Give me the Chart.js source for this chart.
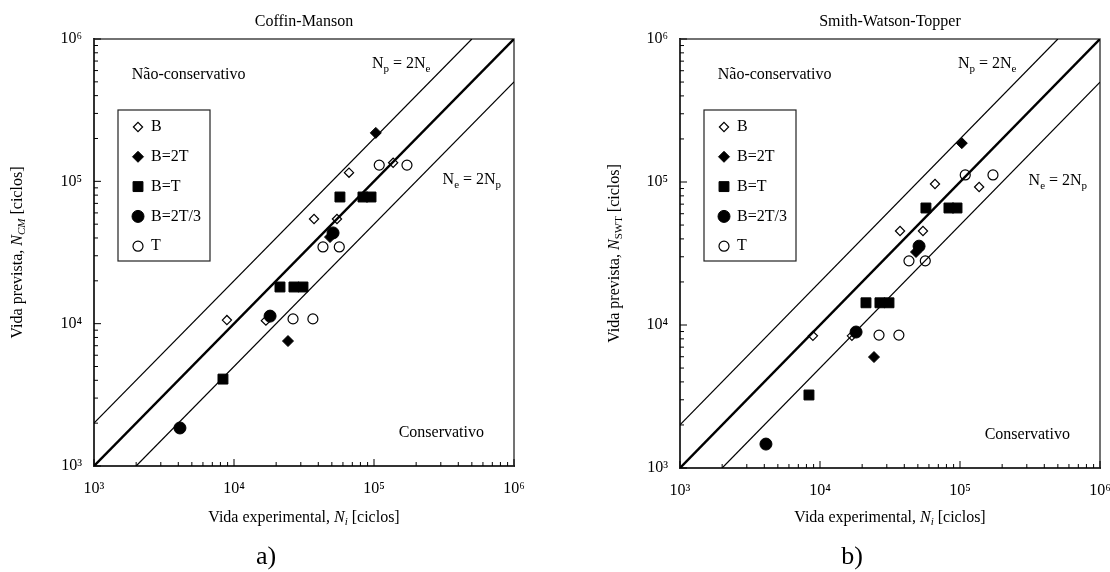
<!DOCTYPE html>
<html>
<head>
<meta charset="utf-8">
<script src="https://cdn.jsdelivr.net/npm/chart.js@4.4.0/dist/chart.umd.min.js"></script>
<style>
  html, body { margin: 0; padding: 0; background: #fff; }
  #wrap { position: relative; width: 1110px; height: 572px; }
  .panel { position: absolute; top: 0; width: 555px; height: 572px; }
</style>
</head>
<body>
<div id="wrap">
  <div class="panel" style="left:0"><canvas id="cm"></canvas></div>
  <div class="panel" style="left:555px"><canvas id="swt"></canvas></div>
</div>
<script>
// experimental life (x) and predicted life (y) per loading type
var bX    = [8900, 16900, 37300, 54400, 66300, 137000];
var bCM   = [10600, 10500, 54400, 54400, 115000, 135000];
var bSWT  = [8400, 8400, 45400, 45400, 96800, 92200];

var b2tX   = [24300, 48500, 103000];
var b2tCM  = [7550, 40600, 219000];
var b2tSWT = [5970, 32400, 187000];

var btX   = [8340, 21300, 26800, 31100, 57100, 83400, 95200];
var btCM  = [4080, 18100, 18100, 18100, 77600, 77600, 77600];
var btSWT = [3240, 14300, 14300, 14300, 65800, 65800, 65800];

var b23X   = [4110, 18100, 51000];
var b23CM  = [1850, 11300, 43400];
var b23SWT = [1470, 8930, 35600];

var tX   = [26400, 36600, 43200, 56500, 109000, 172000];
var tCM  = [10800, 10800, 34600, 34600, 130000, 130000];
var tSWT = [8500, 8500, 28100, 28100, 112000, 112000];

// reference lines: N = N, Np = 2Ne, Ne = 2Np
var equalX = [1e3, 1e6],  equalY = [1e3, 1e6];
var upperX = [1e3, 5e5],  upperY = [2e3, 1e6];
var lowerX = [2e3, 1e6],  lowerY = [1e3, 5e5];

var decadeTicks  = [1e3, 1e4, 1e5, 1e6];
var decadeLabels = ['10³', '10⁴', '10⁵', '10⁶'];
var legendNames  = ['B', 'B=2T', 'B=T', 'B=2T/3', 'T'];

var FONT = '"Liberation Serif", "Times New Roman", serif';
Chart.defaults.font.family = FONT;
Chart.defaults.font.size = 16;
Chart.defaults.color = '#000';

var minorTicks = [];
[1e3, 1e4, 1e5].forEach(function (d) {
  for (var m = 1; m < 10; m++) minorTicks.push(m * d);
});
minorTicks.push(1e6);

function pts(xs, ys) {
  return xs.map(function (x, i) { return { x: x, y: ys[i] }; });
}

function fontFor(p, size) {
  return (p.it ? 'italic ' : '') + (p.sub ? Math.round(size * 0.7) : size) + 'px ' + FONT;
}

function drawRich(ctx, parts, x, y, align, size) {
  size = size || 16;
  var widths = [], total = 0;
  parts.forEach(function (p) {
    ctx.font = fontFor(p, size);
    var w = ctx.measureText(p.t).width;
    widths.push(w);
    total += w;
  });
  var cx = align === 'center' ? x - total / 2 : (align === 'right' ? x - total : x);
  ctx.textAlign = 'left';
  parts.forEach(function (p, i) {
    ctx.font = fontFor(p, size);
    ctx.fillText(p.t, cx, y + (p.sub ? 4 : 0));
    cx += widths[i];
  });
}

var decor = {
  id: 'decor',
  beforeDatasetsDraw: function (chart) {
    var ctx = chart.ctx, a = chart.chartArea;
    var xs = chart.scales.x, ys = chart.scales.y;
    ctx.save();
    ctx.strokeStyle = '#444';
    ctx.lineWidth = 1.5;
    ctx.strokeRect(a.left, a.top, a.right - a.left, a.bottom - a.top);
    ctx.strokeStyle = '#000';
    ctx.lineWidth = 1;
    minorTicks.forEach(function (v) {
      var len = decadeTicks.indexOf(v) >= 0 ? 7 : 4;
      var px = xs.getPixelForValue(v);
      ctx.beginPath(); ctx.moveTo(px, a.bottom); ctx.lineTo(px, a.bottom - len); ctx.stroke();
      var py = ys.getPixelForValue(v);
      ctx.beginPath(); ctx.moveTo(a.left, py); ctx.lineTo(a.left + len, py); ctx.stroke();
    });
    ctx.restore();
  },
  afterDraw: function (chart, args, o) {
    var ctx = chart.ctx, a = chart.chartArea;
    var xs = chart.scales.x, ys = chart.scales.y;
    ctx.save();
    ctx.fillStyle = '#000';
    ctx.textBaseline = 'alphabetic';

    // region and line labels
    drawRich(ctx, [{ t: 'Não-conservativo' }],
      xs.getPixelForValue(1860), ys.getPixelForValue(525000), 'left');
    drawRich(ctx, [{ t: 'Conservativo' }],
      xs.getPixelForValue(610000), ys.getPixelForValue(1600), 'right');
    drawRich(ctx, [{ t: 'N' }, { t: 'p', sub: true }, { t: ' = 2N' }, { t: 'e', sub: true }],
      xs.getPixelForValue(96600), ys.getPixelForValue(627000), 'left');
    drawRich(ctx, [{ t: 'N' }, { t: 'e', sub: true }, { t: ' = 2N' }, { t: 'p', sub: true }],
      xs.getPixelForValue(309000), ys.getPixelForValue(96000), 'left');

    // legend box
    var lx = a.left + 24, ly = a.top + 71;
    ctx.strokeStyle = '#222';
    ctx.lineWidth = 1.2;
    ctx.strokeRect(lx, ly, 92, 151);
    ctx.textBaseline = 'middle';
    legendNames.forEach(function (name, i) {
      var ds = chart.data.datasets[i];
      var iy = ly + 17 + i * 29.8;
      ctx.fillStyle = ds.backgroundColor;
      ctx.strokeStyle = ds.borderColor;
      ctx.lineWidth = ds.borderWidth;
      Chart.helpers.drawPoint(ctx, {
        pointStyle: ds.pointStyle, radius: ds.pointRadius, rotation: 0, borderWidth: ds.borderWidth
      }, lx + 20, iy);
      ctx.fillStyle = '#000';
      ctx.font = '16px ' + FONT;
      ctx.textAlign = 'left';
      ctx.fillText(name, lx + 33, iy);
    });

    // axis titles
    ctx.textBaseline = 'middle';
    drawRich(ctx, [{ t: 'Vida experimental, ' }, { t: 'N', it: true }, { t: 'i', it: true, sub: true }, { t: ' [ciclos]' }],
      (a.left + a.right) / 2, 518, 'center');
    ctx.save();
    ctx.translate(o.yTitleX, (a.top + a.bottom) / 2);
    ctx.rotate(-Math.PI / 2);
    drawRich(ctx, [{ t: 'Vida prevista, ' }, { t: 'N', it: true }, { t: o.sub, it: o.subItalic, sub: true }, { t: ' [ciclos]' }],
      0, 0, 'center');
    ctx.restore();

    // panel letter
    ctx.font = '26px ' + FONT;
    ctx.textAlign = 'center';
    ctx.fillText(o.panel, o.panelX, 557);
    ctx.restore();
  }
};

function makeChart(id, title, ys, cfg) {
  var markers = [
    { label: 'B', data: pts(bX, ys.b), pointStyle: 'rectRot', pointRadius: 4.6,
      backgroundColor: '#fff', borderColor: '#000', borderWidth: 1.2, order: 4 },
    { label: 'B=2T', data: pts(b2tX, ys.b2t), pointStyle: 'rectRot', pointRadius: 5.5,
      backgroundColor: '#000', borderColor: '#000', borderWidth: 1, order: 3 },
    { label: 'B=T', data: pts(btX, ys.bt), pointStyle: 'rect', pointRadius: 7,
      backgroundColor: '#000', borderColor: '#000', borderWidth: 1, order: 2 },
    { label: 'B=2T/3', data: pts(b23X, ys.b23), pointStyle: 'circle', pointRadius: 6,
      backgroundColor: '#000', borderColor: '#000', borderWidth: 1, order: 1 },
    { label: 'T', data: pts(tX, ys.t), pointStyle: 'circle', pointRadius: 5,
      backgroundColor: '#fff', borderColor: '#000', borderWidth: 1.2, order: 5 }
  ];
  var lines = [
    { type: 'line', data: pts(equalX, equalY), borderColor: '#000', borderWidth: 2.4, order: 0 },
    { type: 'line', data: pts(upperX, upperY), borderColor: '#000', borderWidth: 1.2, order: 0 },
    { type: 'line', data: pts(lowerX, lowerY), borderColor: '#000', borderWidth: 1.2, order: 0 }
  ];
  lines.forEach(function (l) { l.pointRadius = 0; l.showLine = true; l.fill = false; });

  function logAxis(size, isX) {
    return {
      type: 'logarithmic', min: 1e3, max: 1e6,
      grid: { display: false },
      border: { display: true, color: '#000', width: 2 },
      ticks: {
        padding: isX ? 5 : 4,
        autoSkip: false,
        maxRotation: 0,
        font: { size: 16 },
        callback: function (v) {
          var k = decadeTicks.indexOf(v);
          return k >= 0 ? decadeLabels[k] : '';
        }
      },
      afterBuildTicks: function (s) {
        s.ticks = decadeTicks.map(function (v) { return { value: v }; });
      },
      afterFit: function (s) {
        if (isX) {
          s.height = size;
          s.paddingLeft = 0;
          s.paddingRight = 0;
        } else {
          s.width = size;
          s.paddingTop = 0;
          s.paddingBottom = 0;
        }
      }
    };
  }

  return new Chart(document.getElementById(id), {
    type: 'scatter',
    data: { datasets: markers.concat(lines) },
    options: {
      responsive: true,
      maintainAspectRatio: false,
      animation: false,
      layout: { padding: { left: 0, right: cfg.right, top: 0, bottom: 0 } },
      scales: {
        x: logAxis(cfg.xHeight, true),
        y: logAxis(cfg.yWidth, false)
      },
      plugins: {
        legend: { display: false },
        tooltip: { enabled: false },
        title: {
          display: true, text: title, fullSize: false,
          font: { size: 16, weight: 'normal' },
          padding: { top: 12, bottom: 7.8 }
        },
        decor: cfg.decor
      }
    },
    plugins: [decor]
  });
}

makeChart('cm', 'Coffin-Manson',
  { b: bCM, b2t: b2tCM, bt: btCM, b23: b23CM, t: tCM },
  { right: 41, xHeight: 106, yWidth: 94,
    decor: { yTitleX: 18, sub: 'CM', subItalic: true, panel: 'a)', panelX: 266 } });

makeChart('swt', 'Smith-Watson-Topper',
  { b: bSWT, b2t: b2tSWT, bt: btSWT, b23: b23SWT, t: tSWT },
  { right: 10, xHeight: 104, yWidth: 125,
    decor: { yTitleX: 60, sub: 'SWT', subItalic: false, panel: 'b)', panelX: 297 } });
</script>
</body>
</html>
